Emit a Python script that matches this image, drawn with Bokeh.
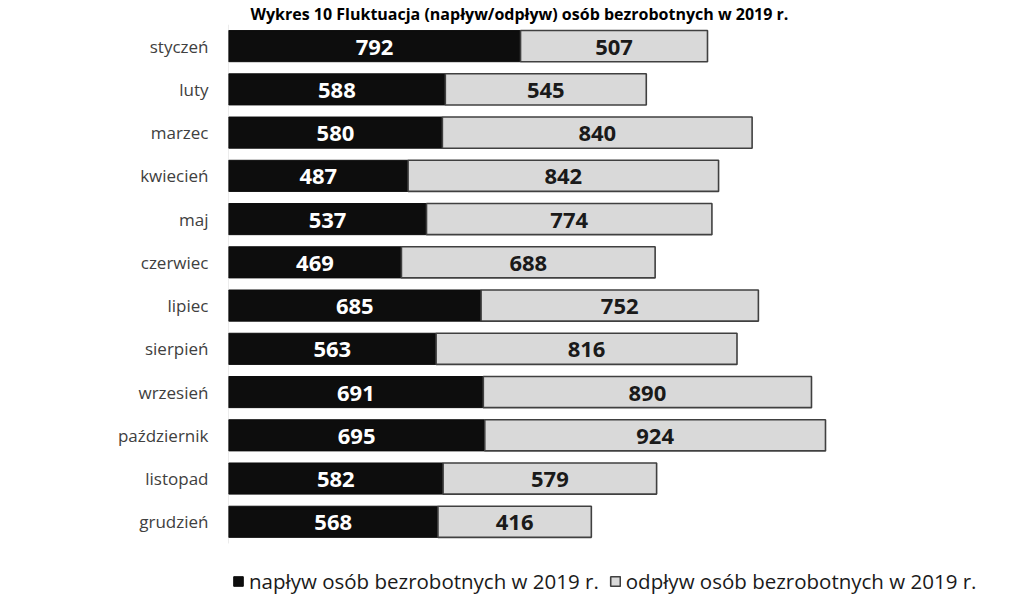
from bokeh.plotting import figure
from bokeh.models import ColumnDataSource, Legend, LegendItem, LabelSet, Range1d, FixedTicker
from bokeh.embed import file_html
from bokeh.resources import INLINE
from bokeh.core.properties import value

months = ["styczeń", "luty", "marzec", "kwiecień", "maj", "czerwiec", "lipiec",
          "sierpień", "wrzesień", "październik", "listopad", "grudzień"]
inflow = [792, 588, 580, 487, 537, 469, 685, 563, 691, 695, 582, 568]
outflow = [507, 545, 840, 842, 774, 688, 752, 816, 890, 924, 579, 416]
series_names = ["napływ osób bezrobotnych w 2019 r.", "odpływ osób bezrobotnych w 2019 r."]
title_text = "Wykres 10 Fluktuacja (napływ/odpływ) osób bezrobotnych w 2019 r."

FONT = "Open Sans"
idx = list(range(len(months)))

src = ColumnDataSource(dict(
    y=idx,
    a=inflow,
    b=outflow,
    end=[a + b for a, b in zip(inflow, outflow)],
    amid=[a / 2 for a in inflow],
    bmid=[a + b / 2 for a, b in zip(inflow, outflow)],
    alab=[str(v) for v in inflow],
    blab=[str(v) for v in outflow],
))

# reversed numeric category axis; extra room at the bottom holds the legend
p = figure(width=1009, height=605, x_range=(0, 2118), y_range=Range1d(12.82, -0.5),
           output_backend="svg", toolbar_location=None, x_axis_location=None,
           min_border_left=228, min_border_right=0, min_border_top=24, min_border_bottom=5)

p.title.text = title_text
p.title.align = "left"
p.title.offset = 22
p.title.text_font = FONT
p.title.text_font_size = "16px"
p.title.text_font_style = "bold"
p.title.text_color = "#000000"
p.title.standoff = 0

# category axis line (only spans the months)
p.segment(x0=[0], y0=[-0.5], x1=[0], y1=[len(months) - 0.5], line_color="#d9d9d9", line_width=1)

r1 = p.hbar(y="y", left=0, right="a", height=0.72, source=src,
            fill_color="#0d0d0d", line_color="#0d0d0d", line_width=1)
r2 = p.hbar(y="y", left="a", right="end", height=0.72, source=src,
            fill_color="#d9d9d9", line_color="#404040", line_width=1.6)

p.add_layout(LabelSet(x="amid", y="y", text="alab", source=src, text_align="center",
                      text_baseline="middle", text_color="white", text_font=value(FONT),
                      text_font_style="bold", text_font_size="22px", y_offset=-1))
p.add_layout(LabelSet(x="bmid", y="y", text="blab", source=src, text_align="center",
                      text_baseline="middle", text_color="#1a1a1a", text_font=value(FONT),
                      text_font_style="bold", text_font_size="22px", y_offset=-1))

p.xgrid.visible = False
p.ygrid.visible = False
p.outline_line_color = None
yax = p.yaxis[0]
yax.ticker = FixedTicker(ticks=idx)
yax.major_label_overrides = {i: m for i, m in zip(idx, months)}
yax.axis_line_color = None
yax.major_tick_line_color = None
yax.minor_tick_line_color = None
yax.major_label_text_font = FONT
yax.major_label_text_font_size = "17px"
yax.major_label_text_color = "#404040"
yax.major_label_standoff = 14

legend = Legend(items=[LegendItem(label=series_names[0], renderers=[r1]),
                       LegendItem(label=series_names[1], renderers=[r2])],
                orientation="horizontal", location=(4, 5),
                padding=0, margin=0, spacing=10, glyph_width=12, glyph_height=12,
                label_text_font=FONT, label_text_font_size="20.5px",
                label_text_color="#1a1a1a", label_standoff=5,
                border_line_color=None, background_fill_alpha=0)
p.add_layout(legend, "center")

open("out.html", "w").write(file_html(p, INLINE))
